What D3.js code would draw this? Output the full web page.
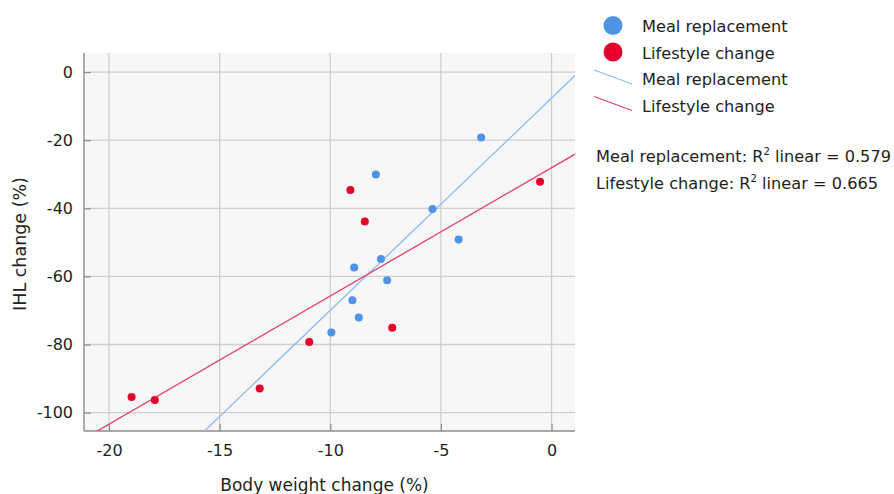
<!DOCTYPE html>
<html>
<head>
<meta charset="utf-8">
<script src="https://cdn.jsdelivr.net/npm/d3@7"></script>
<style>
html,body{margin:0;padding:0;background:#fff;}
svg{display:block;}
text{font-family:"DejaVu Sans",Verdana,sans-serif;fill:#231f20;}
</style>
</head>
<body>
<svg id="chart" width="894" height="494"></svg>
<script>
// Data
const mealX = [-3.18, -7.94, -5.38, -4.20, -7.71, -8.92, -7.43, -9.00, -8.71, -9.95];
const mealY = [-19.2, -30.1, -40.2, -49.2, -54.9, -57.4, -61.1, -67.0, -72.1, -76.5];
const lifeX = [-0.52, -9.09, -8.44, -7.20, -10.95, -13.19, -18.98, -17.93];
const lifeY = [-32.2, -34.6, -43.9, -75.1, -79.3, -92.9, -95.4, -96.3];
const xTicks = [-20, -15, -10, -5, 0];
const yTicks = [0, -20, -40, -60, -80, -100];
const seriesNames = ["Meal replacement", "Lifestyle change"];
const r2Labels = ["0.579", "0.665"];

const svg = d3.select("#chart");
const plot = {left: 84, right: 575, top: 53, bottom: 431};
const x = d3.scaleLinear().domain([-21.13, 1.06]).range([plot.left, plot.right]);
const y = d3.scaleLinear().domain([-105.4, 5.6]).range([plot.bottom, plot.top]);

const colors = {pointBlue: "#4f94e4", pointRed: "#e4002b", lineBlue: "#8dbcf0", lineRed: "#e4426a"};

// background
svg.append("rect").attr("x", plot.left).attr("y", plot.top)
  .attr("width", plot.right - plot.left).attr("height", plot.bottom - plot.top)
  .attr("fill", "#f7f7f7");

// gridlines
const grid = svg.append("g");
grid.selectAll(".gx").data(xTicks).enter().append("line")
  .attr("x1", d => x(d)).attr("x2", d => x(d))
  .attr("y1", plot.top).attr("y2", plot.bottom)
  .attr("stroke", "#cfcfcf").attr("stroke-width", 1.3);
grid.selectAll(".gy").data(yTicks).enter().append("line")
  .attr("y1", d => y(d)).attr("y2", d => y(d))
  .attr("x1", plot.left).attr("x2", plot.right)
  .attr("stroke", "#cfcfcf").attr("stroke-width", 1.3);

// axes
const xAxis = d3.axisBottom(x).tickValues(xTicks).tickSize(-7).tickPadding(14).tickFormat(d3.format("d"));
const yAxis = d3.axisLeft(y).tickValues(yTicks).tickSize(-7).tickPadding(11).tickFormat(d3.format("d"));
const gx = svg.append("g").attr("transform", `translate(0,${plot.bottom})`).call(xAxis);
const gy = svg.append("g").attr("transform", `translate(${plot.left},0)`).call(yAxis);
[gx, gy].forEach(g => {
  g.select(".domain").remove();
  g.selectAll(".tick line").attr("stroke", "#8c8c8c").attr("stroke-width", 1.2);
  g.selectAll(".tick text").attr("font-size", 16).attr("fill", "#231f20")
    .attr("font-family", '"DejaVu Sans",Verdana,sans-serif');
});
gx.selectAll(".tick text").text(d => d === 0 ? "0" : "-" + Math.abs(d));
gy.selectAll(".tick text").text(d => d === 0 ? "0" : "-" + Math.abs(d));
svg.append("line").attr("x1", plot.left).attr("x2", plot.right).attr("y1", plot.bottom).attr("y2", plot.bottom)
  .attr("stroke", "#8c8c8c").attr("stroke-width", 1.4);
svg.append("line").attr("x1", plot.left).attr("x2", plot.left).attr("y1", plot.top).attr("y2", plot.bottom)
  .attr("stroke", "#8c8c8c").attr("stroke-width", 1.4);

// axis titles
svg.append("text").attr("x", (plot.left + plot.right) / 2 - 5).attr("y", 491)
  .attr("text-anchor", "middle").attr("font-size", 17).text("Body weight change (%)");
svg.append("text").attr("transform", `translate(26,${(plot.top + plot.bottom) / 2 + 2}) rotate(-90)`)
  .attr("text-anchor", "middle").attr("font-size", 17.5).text("IHL change (%)");

// regression
function fit(xs, ys) {
  const mx = d3.mean(xs), my = d3.mean(ys);
  let sxy = 0, sxx = 0;
  xs.forEach((v, i) => { sxy += (v - mx) * (ys[i] - my); sxx += (v - mx) * (v - mx); });
  const b = sxy / sxx;
  return {b, a: my - b * mx};
}
svg.append("clipPath").attr("id", "clip").append("rect")
  .attr("x", plot.left).attr("y", plot.top)
  .attr("width", plot.right - plot.left).attr("height", plot.bottom - plot.top);
const linesG = svg.append("g").attr("clip-path", "url(#clip)");
const [x0, x1] = x.domain();
[[mealX, mealY, colors.lineBlue], [lifeX, lifeY, colors.lineRed]].forEach(([xs, ys, c]) => {
  const f = fit(xs, ys);
  linesG.append("line")
    .attr("x1", x(x0)).attr("y1", y(f.a + f.b * x0))
    .attr("x2", x(x1)).attr("y2", y(f.a + f.b * x1))
    .attr("stroke", c).attr("stroke-width", 1.3);
});

// points
const pts = svg.append("g");
pts.selectAll(".mr").data(mealX.map((v, i) => [v, mealY[i]])).enter().append("circle")
  .attr("cx", d => x(d[0])).attr("cy", d => y(d[1])).attr("r", 4).attr("fill", colors.pointBlue);
pts.selectAll(".lc").data(lifeX.map((v, i) => [v, lifeY[i]])).enter().append("circle")
  .attr("cx", d => x(d[0])).attr("cy", d => y(d[1])).attr("r", 4).attr("fill", colors.pointRed);

// legend
const lg = svg.append("g");
const legendRows = [
  {type: "dot", color: colors.pointBlue, label: seriesNames[0], yb: 32},
  {type: "dot", color: colors.pointRed, label: seriesNames[1], yb: 58.5},
  {type: "line", color: colors.lineBlue, label: seriesNames[0], yb: 85},
  {type: "line", color: colors.lineRed, label: seriesNames[1], yb: 111.5}
];
legendRows.forEach(r => {
  if (r.type === "dot") {
    lg.append("circle").attr("cx", 613).attr("cy", r.yb - 6.5).attr("r", 9.5).attr("fill", r.color);
  } else {
    lg.append("line").attr("x1", 594).attr("y1", r.yb - 15).attr("x2", 632).attr("y2", r.yb - 1)
      .attr("stroke", r.color).attr("stroke-width", 1.2);
  }
  lg.append("text").attr("x", 642).attr("y", r.yb).attr("font-size", 16.2).text(r.label);
});
[0, 1].forEach(i => {
  const t = lg.append("text").attr("x", 596).attr("y", 162 + i * 26.5).attr("font-size", 16.2);
  t.append("tspan").text(seriesNames[i] + ": R");
  t.append("tspan").attr("font-size", 10).attr("dy", -7).text("2");
  t.append("tspan").attr("dy", 7).text(" linear = " + r2Labels[i]);
});
</script>
</body>
</html>
